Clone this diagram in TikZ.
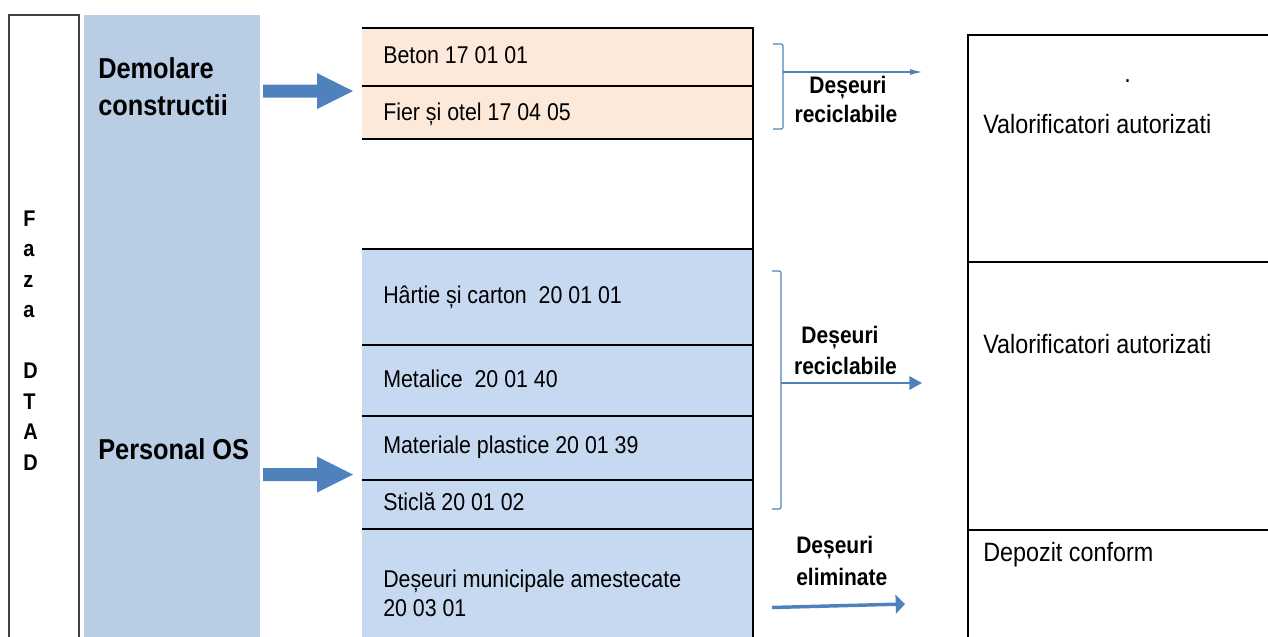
\documentclass[tikz,border=0pt]{standalone}
\usepackage{fontspec}
\setmainfont{Liberation Sans}[FakeStretch=0.88]
\usetikzlibrary{arrows.meta,calc}
\definecolor{arrblue}{HTML}{4F81BD}
\definecolor{colblue}{HTML}{B9CDE5}
\definecolor{cellblue}{HTML}{C6D9F1}
\definecolor{cellpink}{HTML}{FDE9D9}
\begin{document}
\begin{tikzpicture}[x=0.75pt,y=-0.75pt,
  gridline/.style={line width=2pt,black},
  celltext/.style={anchor=base west,inner sep=0pt,font=\fontsize{18.2}{22}\selectfont},
  righttext/.style={anchor=base west,inner sep=0pt,font=\fontsize{19.9}{22}\selectfont},
  bigtext/.style={anchor=base west,inner sep=0pt,font=\fontsize{21.6}{25}\selectfont\bfseries},
  lbl/.style={anchor=base,inner sep=0pt,font=\fontsize{17.9}{20}\selectfont\bfseries},
  lblw/.style={anchor=base west,inner sep=0pt,font=\fontsize{17.9}{20}\selectfont\bfseries},
  letter/.style={anchor=base west,inner sep=0pt,font=\fontsize{17}{18}\selectfont\bfseries},
  bracketline/.style={arrblue,line width=0.9pt,rounded corners=1.5pt}]
\useasboundingbox (0,0) rectangle (1268,636);

% left phase box
\draw[draw=black!75,line width=0.9pt] (9,15) rectangle (79,640);
\foreach \ch/\yy in {F/226,a/256.5,z/287,a/317.5,D/378.5,T/409,A/439.5,D/470}
  \node[letter] at (23,\yy) {\ch};

% blue column
\fill[colblue] (84,15) rectangle (260,640);
\node[bigtext] (dem) at (98,78) {Demolare};
\node[bigtext] (con) at (98,115) {constructii};
\node[bigtext] (pers) at (98,459) {Personal OS};

% middle column fills
\fill[cellpink] (362,28) rectangle (753,139);
\fill[cellblue] (362,249) rectangle (753,640);
\foreach \yy in {28,86,139,249,345,416,480,529}
  \draw[gridline] (362,\yy) -- (753,\yy);
\draw[gridline] (753,27) -- (753,640);

\node[celltext] (beton) at (383,63) {Beton 17 01 01};
\node[celltext] (fier) at (383,120) {Fier și otel 17 04 05};
\node[celltext] (hartie) at (383,303) {Hârtie și carton\ \ 20 01 01};
\node[celltext] (metal) at (383,387) {Metalice\ \ 20 01 40};
\node[celltext] (plast) at (383,453) {Materiale plastice 20 01 39};
\node[celltext] (sticla) at (383,510) {Sticlă 20 01 02};
\node[celltext] (mun1) at (383,587) {Deșeuri municipale amestecate};
\node[celltext] (mun2) at (383,616) {20 03 01};

% right column
\draw[gridline] (1270,35) -- (968,35) -- (968,640);
\draw[gridline] (968,262) -- (1270,262);
\draw[gridline] (968,530) -- (1270,530);
\node[righttext] (dot) at (1124,82) {.};
\node[righttext] (val1) at (983,133) {Valorificatori autorizati};
\node[righttext] (val2) at (983,353) {Valorificatori autorizati};
\node[righttext] (dep) at (983,561) {Depozit conform};

% block arrows
\coordinate (a1s) at (263,91);
\coordinate (a1e) at (353,91);
\coordinate (a2s) at (263,474.5);
\coordinate (a2e) at (353,474.5);
\foreach \s/\e in {a1s/a1e,a2s/a2e}
  \fill[arrblue] ($(\s)+(0,-6.5)$) -- ($(\e)+(-36,-6.5)$) -- ($(\e)+(-36,-18)$) -- (\e)
    -- ($(\e)+(-36,18)$) -- ($(\e)+(-36,6.5)$) -- ($(\s)+(0,6.5)$) -- cycle;

% bracket 1
\draw[bracketline] (773,44) -- (783,44) -- (783,129) -- (773,129);
\coordinate (b1) at (783,72);
\coordinate (t1) at (922,72);
\draw[arrblue,line width=0.8pt,-{Latex[length=9pt,width=4.5pt]}] (b1) -- (t1);
\node[lbl] (l1a) at (848,93) {Deșeuri};
\node[lbl] (l1b) at (846,122) {reciclabile};

% bracket 2
\draw[bracketline] (772,271) -- (781,271) -- (781,509) -- (772,509);
\coordinate (b2) at (781,383);
\coordinate (t2) at (922,383);
\draw[arrblue,line width=1.6pt,-{Triangle[length=9.5pt,width=10pt]}] (b2) -- (t2);
\node[lbl] (l2a) at (840,343) {Deșeuri};
\node[lbl] (l2b) at (845.5,374) {reciclabile};

% eliminated arrow
\coordinate (b3) at (772,607.5);
\coordinate (t3) at (905,604);
\draw[arrblue,line width=2.6pt,-{Triangle[length=7pt,width=14pt]}] (b3) -- (t3);
\node[lblw] (l3a) at (796,553) {Deșeuri};
\node[lblw] (l3b) at (796,585) {eliminate};
\end{tikzpicture}
\end{document}
